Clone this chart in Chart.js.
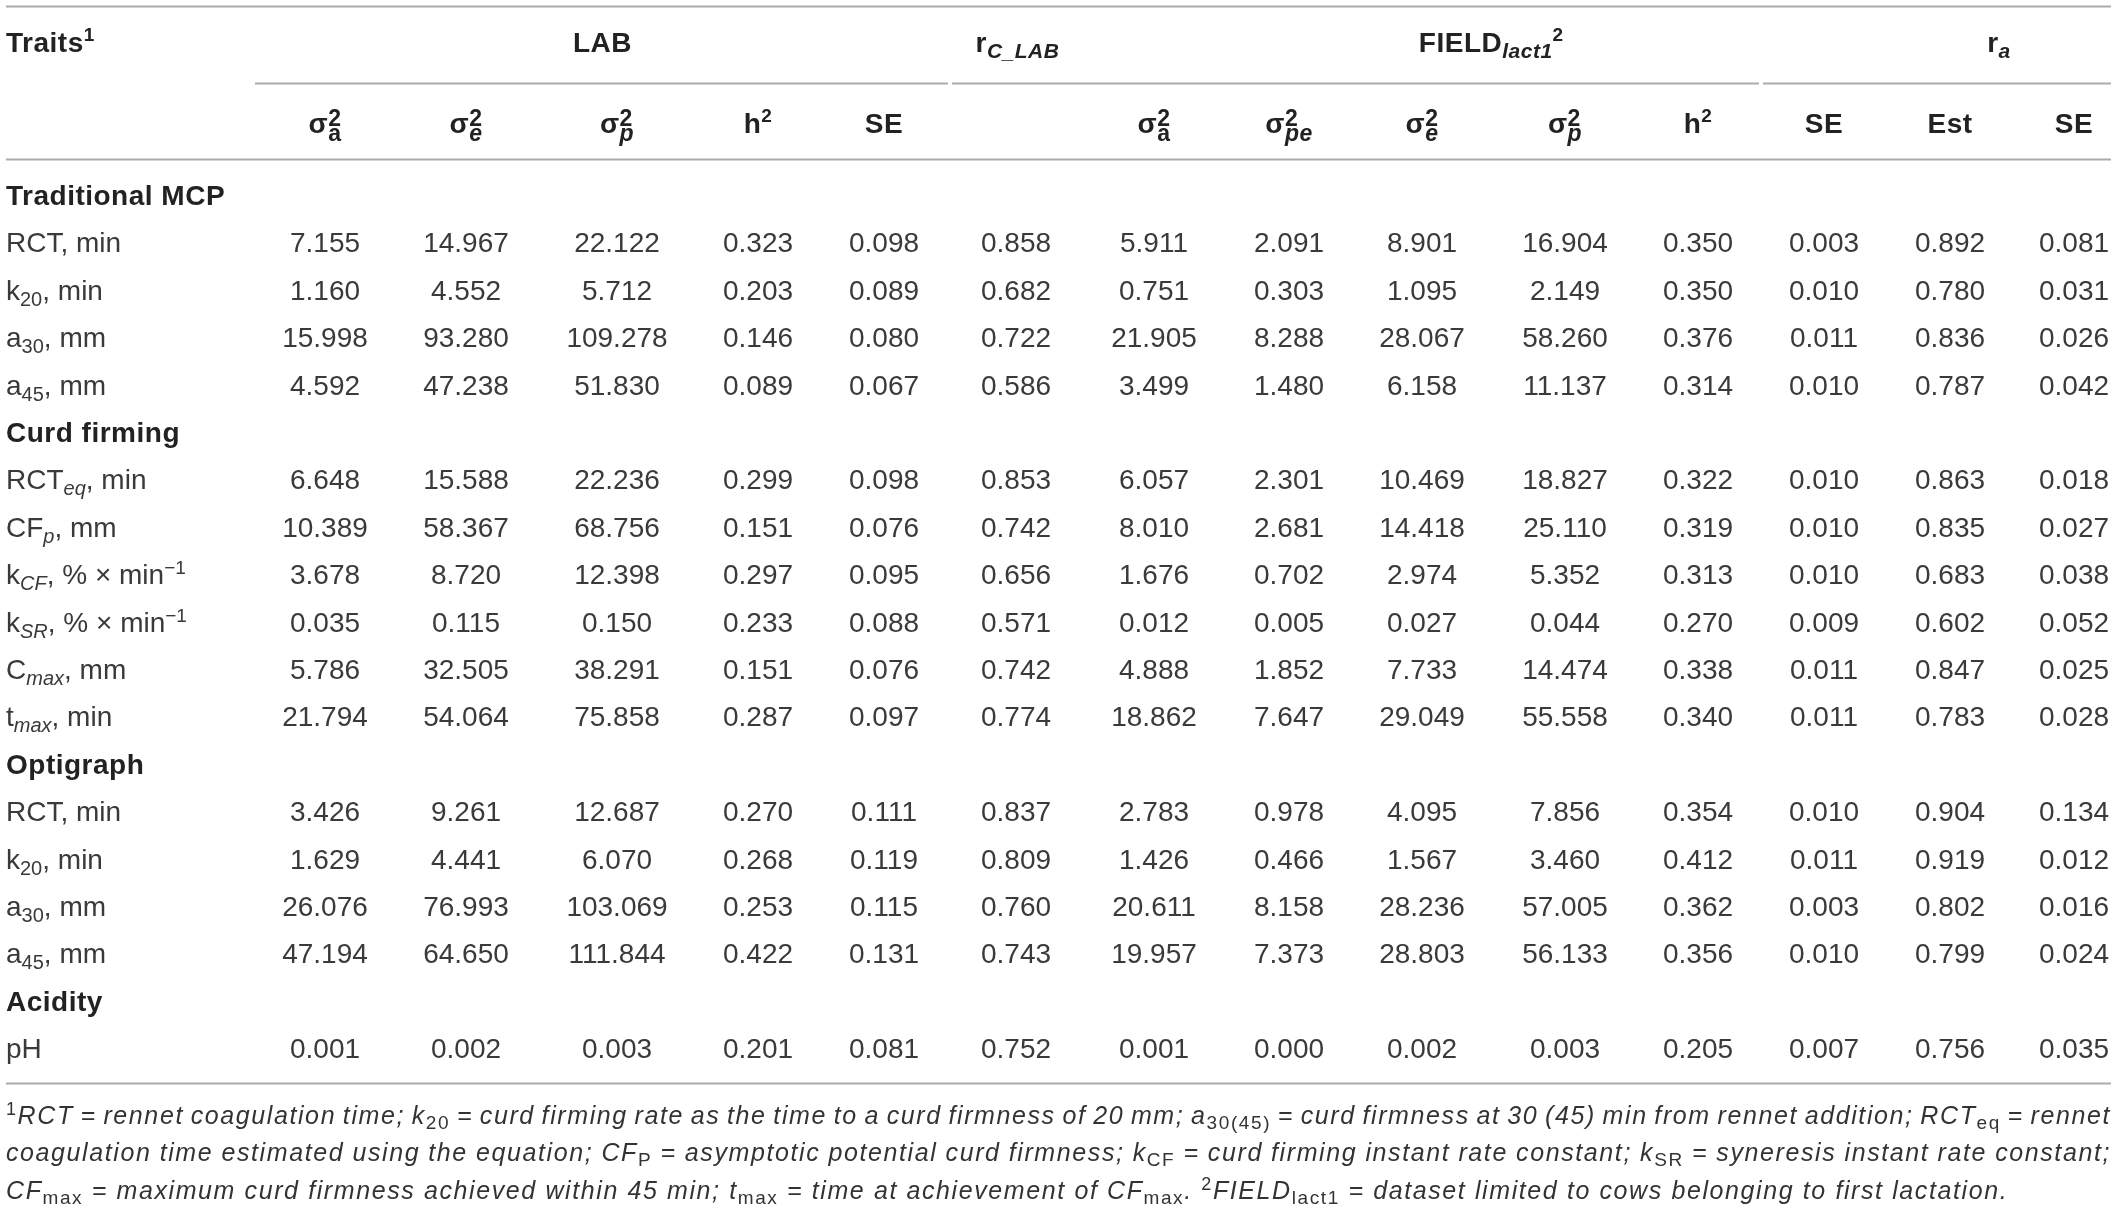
<!DOCTYPE html>
<html>
<head>
<meta charset="utf-8">
<script src="https://cdn.jsdelivr.net/npm/chart.js@4.4.1/dist/chart.umd.min.js"></script>
<style>
  html, body { margin: 0; padding: 0; background: #fff; overflow: hidden; }
  #wrap { width: 2118px; height: 1211px; }
</style>
</head>
<body>
<div id="wrap"><canvas id="tbl" width="2118" height="1211"></canvas></div>
<script>
// ---- data (markup: *..* italic, _{..} subscript, ^{..} superscript)
const sections = ['Traditional MCP', 'Curd firming', 'Optigraph', 'Acidity'];
const traitSection = [0, 0, 0, 0, 1, 1, 1, 1, 1, 1, 2, 2, 2, 2, 3];
const traits = [
  'RCT, min', 'k_{20}, min', 'a_{30}, mm', 'a_{45}, mm',
  'RCT_{*eq*}, min', 'CF_{*p*}, mm', 'k_{*CF*}, % × min^{−1}', 'k_{*SR*}, % × min^{−1}', 'C_{*max*}, mm', 't_{*max*}, min',
  'RCT, min', 'k_{20}, min', 'a_{30}, mm', 'a_{45}, mm',
  'pH'
];

const groupHeads = ['LAB', 'r_{*C_LAB*}', 'FIELD_{*lact1*}^{2}', 'r_{*a*}'];
const groupSpans = [[0, 4], [5, 5], [7, 10], [12, 13]];
const groupRules = [[0, 4], [5, 10], [11, 13]];
const subHeads = ['σ^{2}_{a}', 'σ^{2}_{*e*}', 'σ^{2}_{*p*}', 'h^{2}', 'SE', '', 'σ^{2}_{a}', 'σ^{2}_{*pe*}', 'σ^{2}_{*e*}', 'σ^{2}_{*p*}', 'h^{2}', 'SE', 'Est', 'SE'];

const labVarA  = [7.155, 1.160, 15.998, 4.592, 6.648, 10.389, 3.678, 0.035, 5.786, 21.794, 3.426, 1.629, 26.076, 47.194, 0.001];
const labVarE  = [14.967, 4.552, 93.280, 47.238, 15.588, 58.367, 8.720, 0.115, 32.505, 54.064, 9.261, 4.441, 76.993, 64.650, 0.002];
const labVarP  = [22.122, 5.712, 109.278, 51.830, 22.236, 68.756, 12.398, 0.150, 38.291, 75.858, 12.687, 6.070, 103.069, 111.844, 0.003];
const labH2    = [0.323, 0.203, 0.146, 0.089, 0.299, 0.151, 0.297, 0.233, 0.151, 0.287, 0.270, 0.268, 0.253, 0.422, 0.201];
const labSE    = [0.098, 0.089, 0.080, 0.067, 0.098, 0.076, 0.095, 0.088, 0.076, 0.097, 0.111, 0.119, 0.115, 0.131, 0.081];
const rcLab    = [0.858, 0.682, 0.722, 0.586, 0.853, 0.742, 0.656, 0.571, 0.742, 0.774, 0.837, 0.809, 0.760, 0.743, 0.752];
const fieldVarA  = [5.911, 0.751, 21.905, 3.499, 6.057, 8.010, 1.676, 0.012, 4.888, 18.862, 2.783, 1.426, 20.611, 19.957, 0.001];
const fieldVarPE = [2.091, 0.303, 8.288, 1.480, 2.301, 2.681, 0.702, 0.005, 1.852, 7.647, 0.978, 0.466, 8.158, 7.373, 0.000];
const fieldVarE  = [8.901, 1.095, 28.067, 6.158, 10.469, 14.418, 2.974, 0.027, 7.733, 29.049, 4.095, 1.567, 28.236, 28.803, 0.002];
const fieldVarP  = [16.904, 2.149, 58.260, 11.137, 18.827, 25.110, 5.352, 0.044, 14.474, 55.558, 7.856, 3.460, 57.005, 56.133, 0.003];
const fieldH2    = [0.350, 0.350, 0.376, 0.314, 0.322, 0.319, 0.313, 0.270, 0.338, 0.340, 0.354, 0.412, 0.362, 0.356, 0.205];
const fieldSE    = [0.003, 0.010, 0.011, 0.010, 0.010, 0.010, 0.010, 0.009, 0.011, 0.011, 0.010, 0.011, 0.003, 0.010, 0.007];
const raEst      = [0.892, 0.780, 0.836, 0.787, 0.863, 0.835, 0.683, 0.602, 0.847, 0.783, 0.904, 0.919, 0.802, 0.799, 0.756];
const raSE       = [0.081, 0.031, 0.026, 0.042, 0.018, 0.027, 0.038, 0.052, 0.025, 0.028, 0.134, 0.012, 0.016, 0.024, 0.035];
const columns = [labVarA, labVarE, labVarP, labH2, labSE, rcLab, fieldVarA, fieldVarPE, fieldVarE, fieldVarP, fieldH2, fieldSE, raEst, raSE];

const footnotes = [
  '^{1}*RCT = rennet coagulation time; k*_{20}* = curd firming rate as the time to a curd firmness of 20 mm; a*_{30(45)}* = curd firmness at 30 (45) min from rennet addition; RCT*_{eq}* = rennet*',
  '*coagulation time estimated using the equation; CF*_{P}* = asymptotic potential curd firmness; k*_{CF}* = curd firming instant rate constant; k*_{SR}* = syneresis instant rate constant;*',
  '*CF*_{max}* = maximum curd firmness achieved within 45 min; t*_{max}* = time at achievement of CF*_{max}*. *^{2}*FIELD*_{lact1}* = dataset limited to cows belonging to first lactation.*'
];

// ---- layout
const W = 2118, H = 1211;
const COL_X = [325, 466, 617, 758, 884, 1016, 1154, 1289, 1422, 1565, 1698, 1824, 1950, 2074];
const TABLE_L = 6, TABLE_R = 2111, BODY_L = 255;
const ROW_PX = 47.4, FIRST_ROW_PX = 205;
const Y_RULE_TOP = -4.2, Y_HEAD = -3.23, Y_RULE_GROUP = -2.57, Y_SUB = -1.52, Y_RULE_SUB = -0.97;
const Y_RULE_BOTTOM = 18.52, Y_FOOT = [19.39, 20.17, 20.97];

const FONT = '"Liberation Sans", Arial, Helvetica, sans-serif';
const bodyStyle = { size: 28, bold: false, color: '#3a3a3a', ls: 0, subSize: 20, subDy: 6, supSize: 19, supDy: -10 };
const headStyle = { size: 28, bold: true, color: '#222', ls: 0.5, subSize: 21, subDy: 6, supSize: 19, supDy: -11, stackSize: 23, stackSupDy: -7, stackSubDy: 8 };
const footStyle = { size: 25, bold: false, color: '#333', ls: 1.6, subSize: 19, subDy: 5, supSize: 18, supDy: -9 };

// row index of each trait / section
const traitRow = traits.map((t, i) => i + traitSection[i] + 1);
const sectionRow = sections.map((s, k) => traitRow[traitSection.indexOf(k)] - 1);

function colLeft(j) { return j === 0 ? BODY_L : (COL_X[j - 1] + COL_X[j]) / 2; }
function colRight(j) { return j === COL_X.length - 1 ? TABLE_R : (COL_X[j] + COL_X[j + 1]) / 2; }

function parse(str) {
  const runs = []; let it = false, pos = null, buf = '';
  const push = () => { if (buf) { runs.push({ t: buf, i: it, pos }); buf = ''; } };
  for (let k = 0; k < str.length; k++) {
    const c = str[k];
    if (c === '*') { push(); it = !it; }
    else if ((c === '_' || c === '^') && str[k + 1] === '{') { push(); pos = c === '_' ? 'sub' : 'sup'; k++; }
    else if (c === '}' && pos) { push(); pos = null; }
    else buf += c;
  }
  push();
  for (let k = 0; k < runs.length - 1; k++) {
    if (runs[k].pos === 'sup' && runs[k + 1].pos === 'sub') runs[k].stack = runs[k + 1].stack = true;
  }
  return runs;
}

function runFont(st, r) {
  let size = st.size;
  if (r.pos) size = r.stack ? st.stackSize : (r.pos === 'sub' ? st.subSize : st.supSize);
  return (r.i ? 'italic ' : '') + (st.bold ? 'bold ' : '') + size + 'px ' + FONT;
}
function runDy(st, r) {
  if (!r.pos) return 0;
  if (r.stack) return r.pos === 'sub' ? st.stackSubDy : st.stackSupDy;
  return r.pos === 'sub' ? st.subDy : st.supDy;
}

function drawRich(ctx, str, x, y, st, align, justifyW) {
  if (!str) return;
  if ('letterSpacing' in ctx) ctx.letterSpacing = (st.ls || 0) + 'px';
  const runs = parse(str);
  const items = []; let cx = 0, nSp = 0, stackX = 0, stackW = 0;
  for (const r of runs) {
    ctx.font = runFont(st, r);
    const w = ctx.measureText(r.t).width;
    let rx = cx;
    if (r.stack && r.pos === 'sub') { rx = stackX; cx = stackX + Math.max(stackW, w); }
    else { if (r.stack) { stackX = cx; stackW = w; } cx += w; }
    items.push({ r, rx, font: ctx.font, spBefore: nSp });
    nSp += (r.t.match(/ /g) || []).length;
  }
  const extra = justifyW && nSp ? (justifyW - cx) / nSp : 0;
  const x0 = align === 'center' ? x - cx / 2 : x;
  ctx.fillStyle = st.color;
  ctx.textBaseline = 'alphabetic';
  ctx.textAlign = 'left';
  for (const it of items) {
    ctx.font = it.font;
    const yy = y + runDy(st, it.r);
    let px = x0 + it.rx + extra * it.spBefore;
    if (!extra) { ctx.fillText(it.r.t, px, yy); continue; }
    const parts = it.r.t.split(' ');
    const spW = ctx.measureText(' ').width;
    parts.forEach((p, k) => {
      if (p) ctx.fillText(p, px, yy);
      px += ctx.measureText(p).width + (k < parts.length - 1 ? spW + extra : 0);
    });
  }
  if ('letterSpacing' in ctx) ctx.letterSpacing = '0px';
}

// ---- datasets: each carries its own texts, positioned by the scales
const datasets = [];
datasets.push({ kind: 'section', align: 'left', texts: sections, data: sectionRow.map(r => ({ x: TABLE_L, y: r })) });
datasets.push({ kind: 'label', align: 'left', texts: traits, data: traitRow.map(r => ({ x: TABLE_L, y: r })) });
columns.forEach((vals, j) => {
  datasets.push({ kind: 'cell', align: 'center', texts: vals.map(v => v.toFixed(3)), data: traitRow.map(r => ({ x: COL_X[j], y: r })) });
});
datasets.push({ kind: 'head', align: 'left', texts: ['Traits^{1}'], data: [{ x: TABLE_L, y: Y_HEAD }] });
datasets.push({ kind: 'head', align: 'center', texts: groupHeads,
  data: groupSpans.map(([a, b]) => ({ x: (colLeft(a) + colRight(b)) / 2, y: Y_HEAD })) });
datasets.push({ kind: 'head', align: 'center', texts: subHeads, data: COL_X.map(x => ({ x, y: Y_SUB })) });
datasets.push({ kind: 'foot', align: 'left', texts: footnotes, data: Y_FOOT.map(y => ({ x: TABLE_L, y })) });
datasets.forEach(d => { d.pointRadius = 0; d.pointHoverRadius = 0; d.showLine = false; });

const styles = { section: headStyle, label: bodyStyle, cell: bodyStyle, head: headStyle, foot: footStyle };

const tablePlugin = {
  id: 'tableText',
  beforeDatasetsDraw(chart) {
    const ctx = chart.ctx, xs = chart.scales.x, ys = chart.scales.y;
    ctx.save();
    ctx.strokeStyle = '#ababab';
    ctx.lineWidth = 2;
    const rule = (x1, x2, yv) => {
      const y = Math.round(ys.getPixelForValue(yv)) + 0.5;
      ctx.beginPath();
      ctx.moveTo(xs.getPixelForValue(x1), y);
      ctx.lineTo(xs.getPixelForValue(x2), y);
      ctx.stroke();
    };
    rule(TABLE_L, TABLE_R, Y_RULE_TOP);
    groupRules.forEach(([a, b]) => rule(colLeft(a) + (a ? 2 : 0), colRight(b) - (b < COL_X.length - 1 ? 2 : 0), Y_RULE_GROUP));
    rule(TABLE_L, TABLE_R, Y_RULE_SUB);
    rule(TABLE_L, TABLE_R, Y_RULE_BOTTOM);
    ctx.restore();
  },
  afterDatasetsDraw(chart) {
    const ctx = chart.ctx;
    ctx.save();
    chart.data.datasets.forEach((ds, d) => {
      const meta = chart.getDatasetMeta(d);
      meta.data.forEach((pt, k) => {
        const justify = ds.kind === 'foot' && k < ds.texts.length - 1 ? (TABLE_R - TABLE_L) : 0;
        drawRich(ctx, ds.texts[k], pt.x, pt.y, styles[ds.kind], ds.align, justify);
      });
    });
    ctx.restore();
  }
};

new Chart(document.getElementById('tbl'), {
  type: 'scatter',
  data: { datasets },
  options: {
    responsive: false,
    animation: false,
    events: [],
    layout: { padding: 0 },
    plugins: { legend: { display: false }, tooltip: { enabled: false } },
    scales: {
      x: { type: 'linear', display: false, min: 0, max: W },
      y: { type: 'linear', display: false, reverse: true,
           min: -FIRST_ROW_PX / ROW_PX, max: (H - FIRST_ROW_PX) / ROW_PX }
    }
  },
  plugins: [tablePlugin]
});
</script>
</body>
</html>
